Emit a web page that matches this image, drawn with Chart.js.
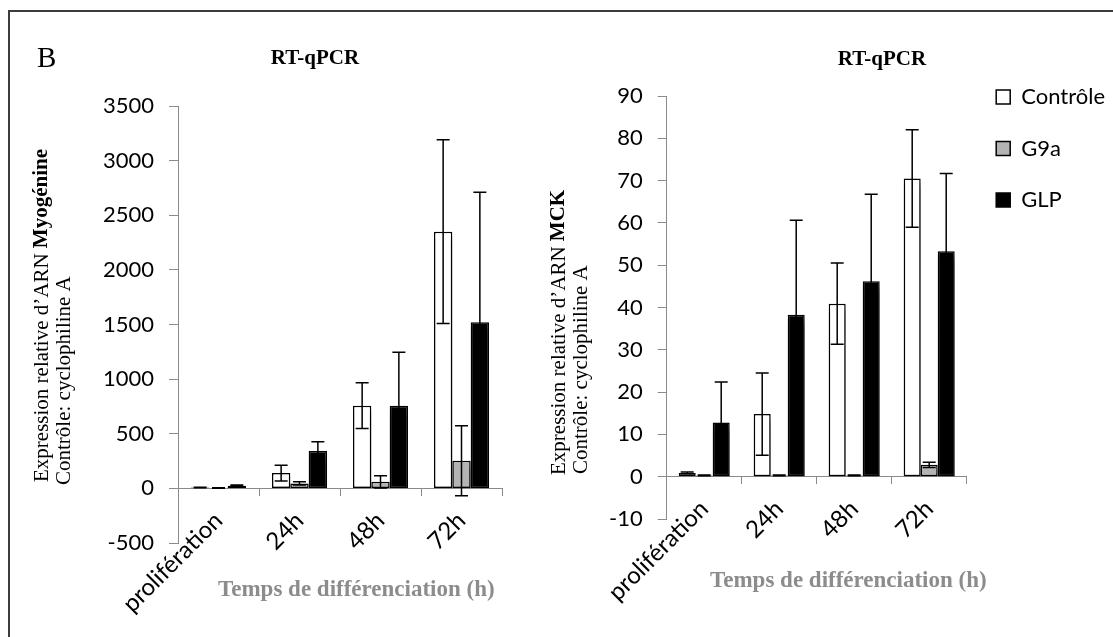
<!DOCTYPE html>
<html>
<head>
<meta charset="utf-8">
<script src="https://cdn.jsdelivr.net/npm/chart.js@4.4.0/dist/chart.umd.min.js"></script>
<style>
html,body{margin:0;padding:0;background:#fff;overflow:hidden;width:1113px;height:637px;}
#frame{position:absolute;left:8px;top:10px;width:1300px;height:800px;border-left:2px solid #3c3c3c;border-top:2px solid #3c3c3c;}
#w1{position:absolute;left:0;top:0;width:560px;height:637px;}
#w2{position:absolute;left:540px;top:0;width:573px;height:637px;}
canvas{display:block;}
</style>
</head>
<body>
<div id="frame"></div>
<div id="w1"><canvas id="c1" width="560" height="637"></canvas></div>
<div id="w2"><canvas id="c2" width="573" height="637"></canvas></div>
<script>
// ---------- data ----------
const CATEGORIES = ['prolifération', '24h', '48h', '72h'];
const SERIES = ['Contrôle', 'G9a', 'GLP'];

// Myogénine (left panel)
const MYO_CONTROLE     = [8, 140, 757, 2350];
const MYO_CONTROLE_ERR = [3, 72, 210, 840];
const MYO_G9A          = [4, 45, 60, 253];
const MYO_G9A_ERR      = [2, 15, 56, 320];
const MYO_GLP          = [25, 342, 757, 1520];
const MYO_GLP_ERR      = [6, 85, 490, 1190];
const MYO_TICKS = [-500, 0, 500, 1000, 1500, 2000, 2500, 3000, 3500];

// MCK (right panel)
const MCK_CONTROLE     = [0.9, 14.8, 40.9, 70.5];
const MCK_CONTROLE_ERR = [0.2, 9.7, 9.6, 11.5];
const MCK_G9A          = [0.3, 0.3, 0.3, 2.8];
const MCK_G9A_ERR      = [0.1, 0.1, 0.1, 0.6];
const MCK_GLP          = [12.8, 38.3, 46.2, 53.3];
const MCK_GLP_ERR      = [9.6, 22.3, 20.6, 18.4];
const MCK_TICKS = [-10, 0, 10, 20, 30, 40, 50, 60, 70, 80, 90];

// ---------- styles ----------
const FILLS = ['#ffffff', '#b4b4b4', '#000000'];
const AXIS = '#8a8a8a';
const SERIF = '"Liberation Serif", "Times New Roman", serif';
const LEGEND_W = 146.3;

// ---------- plugins ----------
const errorBars = {
  id: 'errorBars',
  beforeDatasetsDraw(chart) {
    const c = chart.ctx;
    c.save();
    c.shadowColor = 'rgba(0,0,0,0.5)';
    c.shadowBlur = 7;
    c.shadowOffsetX = 2;
    c.shadowOffsetY = 6;
  },
  afterDatasetsDraw(chart) {
    const c = chart.ctx;
    c.restore();
    const ys = chart.scales.y;
    c.save();
    c.strokeStyle = '#000';
    c.lineWidth = 1.5;
    chart.data.datasets.forEach((ds, i) => {
      const meta = chart.getDatasetMeta(i);
      meta.data.forEach((bar, j) => {
        const v = ds.data[j], e = ds.errors[j];
        const x = bar.x;
        const y1 = ys.getPixelForValue(v + e);
        const y2 = ys.getPixelForValue(v - e);
        c.beginPath();
        c.moveTo(x, y1); c.lineTo(x, y2);
        c.moveTo(x - 6.5, y1); c.lineTo(x + 6.5, y1);
        c.moveTo(x - 6.5, y2); c.lineTo(x + 6.5, y2);
        c.stroke();
      });
    });
    c.restore();
  }
};

const texts = {
  id: 'texts',
  afterDraw(chart, args, opts) {
    const c = chart.ctx;
    (opts.items || []).forEach(it => {
      c.save();
      c.translate(it.x, it.y);
      if (it.rot) c.rotate(it.rot);
      c.textBaseline = it.baseline || 'alphabetic';
      c.textAlign = 'left';
      let total = 0;
      it.parts.forEach(p => { c.font = p.font; total += c.measureText(p.text).width; });
      let x = it.align === 'center' ? -total / 2 : 0;
      it.parts.forEach(p => {
        c.font = p.font;
        c.fillStyle = p.color || '#000';
        c.fillText(p.text, x, 0);
        x += c.measureText(p.text).width;
      });
      c.restore();
    });
  }
};

// fixes the width of the legend box so the plot area ends where the reference does
const legendWidth = {
  id: 'legendWidth',
  beforeLayout(chart) {
    const lg = chart.legend;
    if (lg && !lg._fixedW) {
      const f = lg.fit;
      lg.fit = function () { f.call(this); this.width = LEGEND_W; };
      lg._fixedW = true;
    }
  }
};

function makeDatasets(vals, errs) {
  return SERIES.map((name, i) => ({
    label: name,
    data: vals[i],
    errors: errs[i],
    backgroundColor: FILLS[i],
    borderColor: '#000',
    borderWidth: 1.5,
    borderSkipped: false
  }));
}

function xScale() {
  return {
    position: { y: 0 },
    offset: true,
    grid: { drawOnChartArea: false, tickLength: 7, color: AXIS, offset: true },
    border: { color: AXIS, width: 1 },
    ticks: { font: { family: 'Lato', size: 24 }, color: '#000', minRotation: 45, maxRotation: 45, padding: 11, autoSkip: false }
  };
}

function yScale(tickArr, width, padTop) {
  return {
    min: tickArr[0],
    max: tickArr[tickArr.length - 1],
    afterBuildTicks: s => { s.ticks = tickArr.map(v => ({ value: v })); },
    afterFit: s => { s.width = width; if (padTop) s.paddingTop = padTop; },
    grid: { drawOnChartArea: false, tickLength: 9, color: AXIS },
    border: { color: AXIS, width: 1 },
    ticks: { font: { family: 'Lato', size: 22 }, color: '#000', padding: 15, callback: v => String(v) }
  };
}

// ---------- left chart: Myogénine ----------
new Chart(document.getElementById('c1'), {
  type: 'bar',
  data: {
    labels: CATEGORIES,
    datasets: makeDatasets([MYO_CONTROLE, MYO_G9A, MYO_GLP], [MYO_CONTROLE_ERR, MYO_G9A_ERR, MYO_GLP_ERR])
  },
  options: {
    responsive: false,
    animation: false,
    layout: { padding: { left: 0, top: 106, right: 58, bottom: 94 } },
    datasets: { bar: { categoryPercentage: 0.68, barPercentage: 1 } },
    plugins: {
      legend: { display: false },
      tooltip: { enabled: false },
      texts: {
        items: [
          { x: 37, y: 67, parts: [{ text: 'B', font: '29px ' + SERIF }] },
          { x: 315, y: 59, baseline: 'middle', align: 'center', parts: [{ text: 'RT-qPCR', font: 'bold 21px ' + SERIF }] },
          { x: 42, y: 482, rot: -Math.PI / 2, baseline: 'middle', parts: [
            { text: 'Expression relative d’ARN ', font: '21px ' + SERIF },
            { text: 'Myogénine', font: 'bold 21px ' + SERIF }] },
          { x: 64, y: 485, rot: -Math.PI / 2, baseline: 'middle', parts: [{ text: 'Contrôle: cyclophiline A', font: '21px ' + SERIF }] },
          { x: 218, y: 596, parts: [{ text: 'Temps de différenciation (h)', font: 'bold 23px ' + SERIF, color: '#8c8c8c' }] }
        ]
      }
    },
    scales: { x: xScale(), y: yScale(MYO_TICKS, 178, 0) }
  },
  plugins: [errorBars, texts]
});

// ---------- right chart: MCK ----------
new Chart(document.getElementById('c2'), {
  type: 'bar',
  data: {
    labels: CATEGORIES,
    datasets: makeDatasets([MCK_CONTROLE, MCK_G9A, MCK_GLP], [MCK_CONTROLE_ERR, MCK_G9A_ERR, MCK_GLP_ERR])
  },
  options: {
    responsive: false,
    animation: false,
    layout: { padding: { left: 0, top: 56.5, right: 0, bottom: 118 } },
    datasets: { bar: { categoryPercentage: 0.68, barPercentage: 1 } },
    plugins: {
      legend: {
        display: true,
        position: 'right',
        align: 'start',
        labels: { boxWidth: 14, boxHeight: 14, padding: 29.5, color: '#000', font: { family: 'Lato', size: 22 } }
      },
      tooltip: { enabled: false },
      texts: {
        items: [
          { x: 342, y: 60, baseline: 'middle', align: 'center', parts: [{ text: 'RT-qPCR', font: 'bold 21px ' + SERIF }] },
          { x: 19, y: 475, rot: -Math.PI / 2, baseline: 'middle', parts: [
            { text: 'Expression relative d’ARN ', font: '21px ' + SERIF },
            { text: 'MCK', font: 'bold 21px ' + SERIF }] },
          { x: 41, y: 474, rot: -Math.PI / 2, baseline: 'middle', parts: [{ text: 'Contrôle: cyclophiline A', font: '21px ' + SERIF }] },
          { x: 170, y: 587, parts: [{ text: 'Temps de différenciation (h)', font: 'bold 23px ' + SERIF, color: '#8c8c8c' }] }
        ]
      }
    },
    scales: { x: xScale(), y: yScale(MCK_TICKS, 126.7, 96) }
  },
  plugins: [legendWidth, errorBars, texts]
});
</script>
</body>
</html>
